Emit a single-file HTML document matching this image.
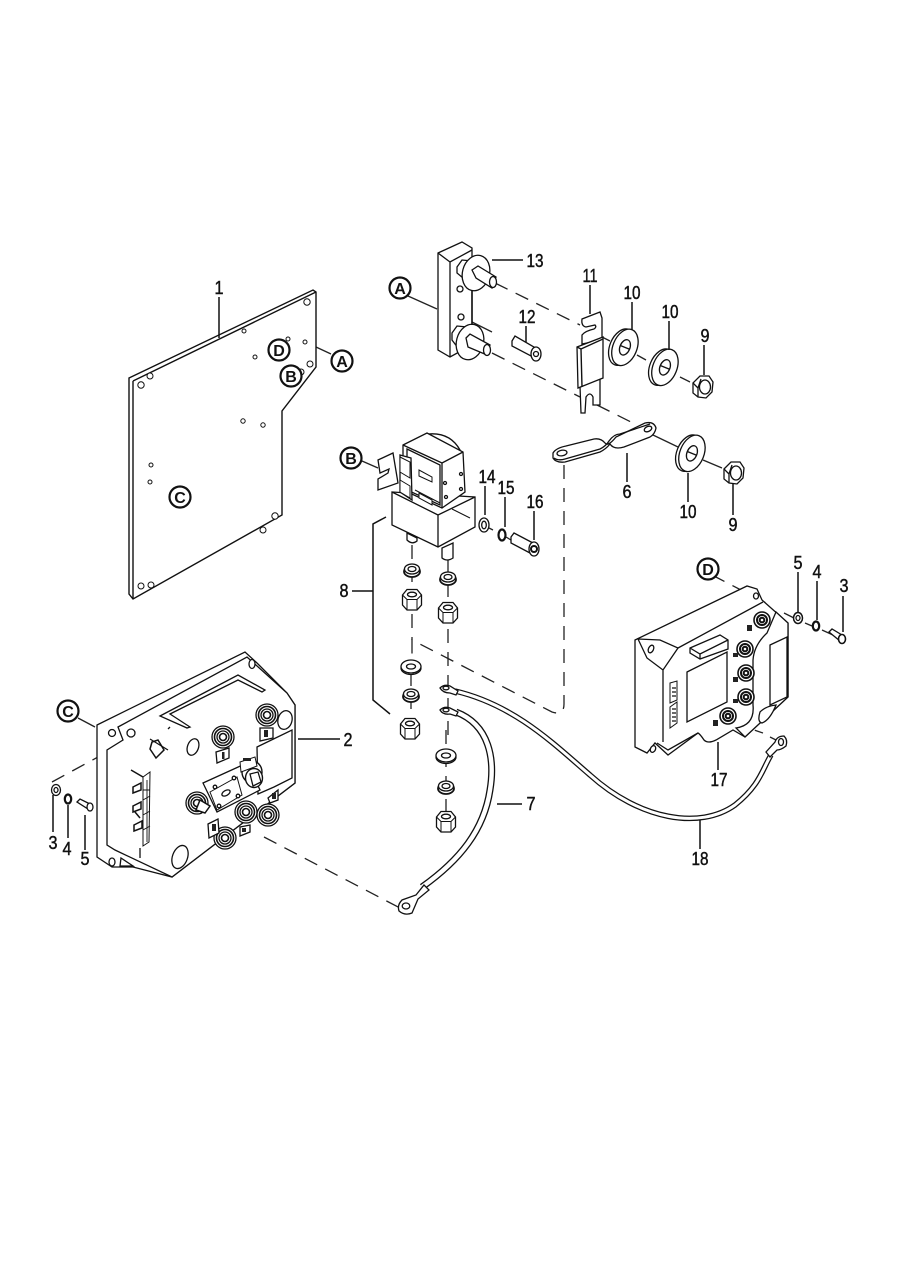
<!DOCTYPE html>
<html><head><meta charset="utf-8"><title>Parts diagram</title>
<style>
html,body{margin:0;padding:0;background:#fff}
svg{display:block}
text{font-family:"Liberation Sans",sans-serif;font-size:18px;fill:#111;text-anchor:middle;stroke:#111;stroke-width:.45}
.l{font-size:16px;font-weight:bold;stroke:none}
</style></head><body>
<svg width="900" height="1272" viewBox="0 0 900 1272" xmlns="http://www.w3.org/2000/svg">
<defs>
<g id="bw"><g transform="rotate(22)"><ellipse cx="-2" cy="1" rx="12" ry="19"/><ellipse cx="1" cy="0" rx="12" ry="19"/><ellipse cx="1" cy="0" rx="5" ry="8"/><path d="M-4 0H6" /></g></g>
<g id="nut"><path d="M-9 -4L-2 -11 7 -11 11 -5 10 5 4 11-4 10-9 6Z"/><path d="M-9 -4L-4 1-4 10M-4 1L-1 -8"/><ellipse cx="3" cy="0" rx="5.500" ry="7"/></g>
<g id="vn"><path d="M-9.500 -5L-5 -10.500H5L9.500 -5V5L5 10 -5 10 -9.500 5Z"/><path d="M-9.500 -5L-5 -.5H5L9.500 -5M-5 -.5V10M5 -.5V10" stroke-width="1"/><ellipse cx="0" cy="-5.500" rx="4.500" ry="2.300"/></g>
<g id="lw"><ellipse cx="0" cy="1.500" rx="8" ry="5.500" stroke-width="1.800"/><ellipse cx="0" cy="-1" rx="7.500" ry="5"/><ellipse cx="0" cy="-1" rx="4" ry="2.500"/></g>
<g id="fw"><ellipse cx="0" cy="1" rx="10" ry="6.500"/><ellipse cx="0" cy="-.5" rx="10" ry="6.500"/><ellipse cx="0" cy="-.5" rx="4.500" ry="2.500"/></g>
<g id="st"><circle r="11"/><circle r="8.500" stroke-width="1.600"/><circle r="6"/><circle r="3.500" stroke-width="1.600"/></g>
<g id="st2"><circle r="8" stroke-width="1.600"/><circle r="5" stroke-width="2"/><circle r="2.300" stroke-width="2"/></g>
</defs>

<!-- dashed connectors -->
<g fill="none" stroke="#222" stroke-width="1.300" stroke-dasharray="14 9">
<path d="M495 283L580 325"/><path d="M492 353L580 397"/><path d="M597 405L633 423"/>
<path d="M564 465V704Q564 716 552 712L412 640V660"/>
<path d="M448 560V740"/><path d="M412 545V640"/><path d="M446 730V822"/><path d="M411 672V725"/>
<path d="M264 837L400 908"/><path d="M52 782L120 745"/>
<path d="M712 575L770 605"/><path d="M733 723L763 733"/>
</g>
<g fill="none" stroke="#222" stroke-width="1.300">
<path d="M408 296L437 309"/><path d="M602 337L610 341M637 355L646 360M680 377L690 382"/>
<path d="M653 435L678 447M703 460L722 468"/><path d="M784 613L794 618M805 623L812 626M822 630L833 635"/>
<path d="M462 317L492 332"/><path d="M770 737L776 740"/>
<path d="M78 718L95 727"/><path d="M362 461L378 468"/>
<path d="M489 528L493 530M506 537L511 540"/>
<path d="M316 347L331 354M304 342L310 345M258 358L281 370M247 332L270 345M152 484L170 493"/>
</g>

<!-- part 1 plate -->
<g fill="#fff" stroke="#111" stroke-width="1.400">
<path d="M129 378L313 290 316 292 316 367 282 411 282 515 133 599 129 594Z"/>
<path d="M133 381L316 292M133 381V599" fill="none"/>
<g stroke-width="1">
<circle cx="141" cy="385" r="3.200"/><circle cx="150" cy="376" r="3"/><circle cx="307" cy="302" r="3.200"/>
<circle cx="244" cy="331" r="2"/><circle cx="255" cy="357" r="2"/><circle cx="305" cy="342" r="2"/>
<circle cx="288" cy="339" r="2"/><circle cx="278" cy="350" r="2"/><circle cx="243" cy="421" r="2.200"/>
<circle cx="263" cy="425" r="2.200"/><circle cx="151" cy="465" r="2"/><circle cx="150" cy="482" r="2"/>
<circle cx="275" cy="516" r="3.200"/><circle cx="263" cy="530" r="3"/><circle cx="151" cy="585" r="3"/>
<circle cx="141" cy="586" r="3"/><circle cx="310" cy="364" r="3"/><circle cx="301" cy="372" r="3"/>
</g>
</g>

<!-- bracket 13 -->
<g fill="#fff" stroke="#111" stroke-width="1.300">
<path d="M438 253L462 242 472 248V345L450 357 438 350Z"/>
<path d="M438 253L450 262 472 250M450 262V357" fill="none"/>
<circle cx="460" cy="289" r="3"/><circle cx="461" cy="317" r="3"/>
<path d="M457 267L462 260 472 261 472 278 463 278 457 273Z"/>
<path d="M452 333L457 326 467 327 467 347 458 348 452 340Z"/>
<ellipse cx="476" cy="273" rx="13.500" ry="18" transform="rotate(15 476 273)"/>
<ellipse cx="470" cy="342" rx="13.500" ry="18" transform="rotate(15 470 342)"/>
<path d="M472 270L478 266 496 277 492 288 476 278Z"/><ellipse cx="493" cy="282" rx="3.500" ry="5.500"/>
<path d="M466 338L470 334 490 345 487 355 468 347Z"/><ellipse cx="487" cy="350" rx="3.500" ry="5.500"/>
<path d="M472 291V325" fill="none" stroke-width="1.500"/>
</g>

<!-- bolt 12 -->
<g fill="#fff" stroke="#111" stroke-width="1.300">
<path d="M512 341L515 336 534 347 531 356 512 346Z"/><ellipse cx="536" cy="354" rx="5" ry="7"/><circle cx="536" cy="354" r="2.500"/>
</g>

<!-- fuse 11 -->
<g fill="#fff" stroke="#111" stroke-width="1.300">
<path d="M582 344V335Q585 331 594 329 597 327 595 325L586 327Q581 326 582 319L600 312 602 318V340Z"/>
<path d="M580 386L581 413 585 413 586 397Q590 391 593 397L593 405 600 405 600 378Z"/>
<path d="M577 347L603 337 603 378 578 388Z"/>
<path d="M577 347L581 349 603 339M581 349L582 387" fill="none" stroke-width="1.400"/>
</g>
<use href="#bw" x="624" y="347" fill="#fff" stroke="#111" stroke-width="1.300"/>
<use href="#bw" x="664" y="367" fill="#fff" stroke="#111" stroke-width="1.300"/>
<use href="#bw" x="691" y="453" fill="#fff" stroke="#111" stroke-width="1.300"/>
<use href="#nut" x="702" y="387" fill="#fff" stroke="#111" stroke-width="1.300"/>
<use href="#nut" x="733" y="473" fill="#fff" stroke="#111" stroke-width="1.300"/>

<!-- strap 6 -->
<g fill="#fff" stroke="#111" stroke-width="1.300">
<path d="M553 453Q556 448 566 446L594 439Q601 438 605 443 608 447 616 437L645 423Q654 421 656 428 655 434 650 437L624 447Q614 450 610 444 606 449 600 452L565 462Q556 463 553 458Z"/>
<path d="M554 458Q558 461 565 459L600 449Q606 446 609 441 614 434 620 434L650 424" fill="none"/>
<ellipse cx="562" cy="453" rx="5" ry="2.800" transform="rotate(-10 562 453)"/>
<ellipse cx="648" cy="429" rx="4" ry="2.500" transform="rotate(-25 648 429)"/>
</g>

<!-- relay -->
<g fill="#fff" stroke="#111" stroke-width="1.300">
<path d="M428 434Q450 432 460 450L445 458Z"/>
<path d="M378 460L393 453 398 483 378 490V479L388 473 389 469 380 473Z"/>
<path d="M392 492L475 497 475 527 438 547 392 525Z"/>
<path d="M392 492L438 515 475 497M438 515V547" fill="none"/>
<path d="M403 445L427 433 463 452 465 492 442 508 403 490Z"/>
<path d="M403 445L442 463 463 452M442 463V508" fill="none"/>
<path d="M407 449L440 465V505L407 490Z"/>
<path d="M400 455L411 458 412 500 400 492Z"/>
<path d="M419 470L432 477 432 482 419 476ZM419 493L432 500 432 505 419 498ZM400 457L410 462 410 478 400 472ZM400 480L410 486 410 498 400 492Z" stroke-width="1"/>
<circle cx="445" cy="483" r="1.500"/><circle cx="446" cy="497" r="1.500"/><circle cx="461" cy="474" r="1.500"/><circle cx="461" cy="489" r="1.500"/>
<path d="M407 533V540Q412 545 417 541V538Z"/><path d="M442 548V558Q447 562 453 558V543Z"/>
<path d="M415 490L440 503M452 509L470 518" fill="none" stroke-width="1"/>
</g>
<g fill="#fff" stroke="#111" stroke-width="1.300">
<ellipse cx="484" cy="525" rx="5" ry="7"/><ellipse cx="484" cy="525" rx="2.300" ry="3.800"/>
<ellipse cx="502" cy="535" rx="3.500" ry="5.500" stroke-width="2.200"/>
<path d="M511 537L514 533 533 543 530 553 511 543Z"/><ellipse cx="534" cy="549" rx="5" ry="7"/><circle cx="534" cy="549" r="3" stroke-width="2"/>
</g>

<!-- stacks -->
<g fill="#fff" stroke="#111" stroke-width="1.300">
<use href="#lw" x="412" y="570"/><use href="#lw" x="448" y="578"/>
<use href="#vn" x="412" y="600"/><use href="#vn" x="448" y="613"/>
<use href="#fw" x="411" y="667"/><use href="#lw" x="411" y="695"/><use href="#vn" x="410" y="729"/>
<use href="#fw" x="446" y="756"/><use href="#lw" x="446" y="787"/><use href="#vn" x="446" y="822"/>
</g>

<!-- cables -->
<g fill="none">
<path d="M455 691C515 705 555 745 590 775 640 820 700 830 735 805 760 785 762 770 771 755" stroke="#111" stroke-width="5.500"/>
<path d="M455 691C515 705 555 745 590 775 640 820 700 830 735 805 760 785 762 770 771 755" stroke="#fff" stroke-width="3"/>
<path d="M456 712C490 725 495 760 490 790 484 830 460 860 422 887" stroke="#111" stroke-width="7"/>
<path d="M456 712C490 725 495 760 490 790 484 830 460 860 422 887" stroke="#fff" stroke-width="4.400"/>
</g>
<g fill="#fff" stroke="#111" stroke-width="1.300">
<path d="M770 757L766 752 775 742Q777 736 784 736 788 740 786 746 781 750 777 750Z"/><ellipse cx="781" cy="742" rx="2.500" ry="3.500"/>
<path d="M440 688Q444 684 450 686L458 691 456 695 450 693Q443 693 440 688Z"/><ellipse cx="446" cy="688" rx="3" ry="1.800"/>
<path d="M440 710Q444 706 450 708L458 712 456 716 450 714Q443 715 440 710Z"/><ellipse cx="446" cy="710" rx="3" ry="1.800"/>
<path d="M416 895L424 885 429 890 418 899 412 913Q405 916 399 911 397 905 402 900Z"/><ellipse cx="406" cy="906" rx="3.800" ry="3"/>
</g>

<!-- part 2 -->
<g fill="#fff" stroke="#111" stroke-width="1.300">
<path d="M97 725L245 652 257 663 287 693 295 705V783L172 877 133 867 112 867 97 857Z"/>
<path d="M118 727L247 657 287 693 295 705V783L172 877 115 850 107 845V750L123 740Z"/>
<path d="M160 716L238 675 265 690 262 692 238 680 170 714 190 727 187 728Z"/>
<ellipse cx="193" cy="747" rx="5.500" ry="8.500" transform="rotate(20 193 747)"/>
<ellipse cx="285" cy="720" rx="7" ry="9.500" transform="rotate(15 285 720)"/>
<ellipse cx="180" cy="857" rx="7.500" ry="12" transform="rotate(20 180 857)"/>
<circle cx="131" cy="733" r="4"/><circle cx="112" cy="733" r="3.500"/>
<ellipse cx="252" cy="664" rx="3" ry="4.500"/><ellipse cx="112" cy="862" rx="3" ry="4"/>
<path d="M257 747L292 730V778L274 787 258 794Z"/>
<path d="M203 783L247 763 260 790 217 812Z"/>
<path d="M210 792L237 777 242 795 217 810Z" stroke-width="1"/>
<circle cx="215" cy="787" r="1.800"/><circle cx="234" cy="778" r="1.800"/><circle cx="238" cy="796" r="1.800"/><circle cx="219" cy="806" r="1.800"/>
<ellipse cx="226" cy="793" rx="4.500" ry="2.500" transform="rotate(-30 226 793)"/>
<path d="M143 777L150 772 149 842 143 846Z" stroke-width="1"/>
<path d="M143 790H150M143 800L150 796M143 815L150 811M143 830L150 826M147 780V842" fill="none" stroke-width=".9"/>
<path d="M131 770L143 777M133 787L141 783V790L133 793ZM133 806L141 802V809L133 812ZM134 825L142 821V828L134 831ZM135 812L140 818M152 742L158 740 164 750 156 758 150 749Z" stroke-width="1.500"/>
<path d="M140 848V858M168 750L150 739M168 729L170 727" fill="none"/>
<path d="M121 858L133 866 133 866 120 866Z"/>
<use href="#st" x="223" y="737"/><use href="#st" x="267" y="715"/>
<use href="#st" x="225" y="838"/><use href="#st" x="268" y="815"/><use href="#st" x="246" y="812"/>
<use href="#st" x="197" y="803"/>
<ellipse cx="252" cy="772" rx="10" ry="11" stroke-width="1.400"/>
<ellipse cx="254" cy="778" rx="8.500" ry="9.500" stroke-width="1.400"/>
<path d="M250 774L258 772 261 782 253 786Z"/>
<path d="M200 800L210 806 205 813 196 810Z" stroke-width="1.500"/>
<path d="M216 752L229 748 229 758 217 763Z"/><path d="M260 728L273 728 273 738 260 741Z"/>
<path d="M208 824L218 819 219 833 209 838Z"/><path d="M268 798L278 790 278 800 270 803Z"/>
<path d="M240 827L250 825 250 832 240 836Z"/>
<path d="M240 762L255 757 257 766 241 772Z" stroke-width="1"/>
</g>
<g fill="#222" stroke="none">
<rect x="222" y="752" width="2.500" height="7"/><rect x="264" y="730" width="4" height="7"/><rect x="212" y="824" width="4" height="7"/><rect x="242" y="828" width="4" height="4"/><rect x="243" y="758" width="8" height="3"/><rect x="272" y="793" width="4" height="6"/>
</g>

<!-- part 17 -->
<g fill="#fff" stroke="#111" stroke-width="1.300">
<path d="M635 640L747 586 757 589 762 600 788 623V697L745 737 733 730 716 740Q708 744 704 740 700 734 698 733L668 755 655 743 647 753 635 747Z"/>
<path d="M638 639L660 640 678 648 663 670 647 658ZM678 648L763 602M663 670V742M657 743L668 750 698 733" fill="none"/>
<ellipse cx="651" cy="649" rx="2.500" ry="4" transform="rotate(25 651 649)"/>
<ellipse cx="653" cy="749" rx="2.500" ry="3.500" transform="rotate(25 653 749)"/><ellipse cx="756" cy="596" rx="2.500" ry="3"/>
<path d="M690 648L720 635 728 640 728 649 700 659 690 653Z"/><path d="M690 648L700 654 728 640M700 654V659" fill="none"/>
<path d="M687 672L727 652V702L687 722Z"/>
<path d="M670 683L677 681V700L670 703ZM670 707L677 702V723L670 728Z" stroke-width="1"/>
<path d="M672 688H676M672 692H676M672 696H676M672 709H676M672 713H676M672 717H676M672 721H676" fill="none" stroke-width="1.200"/>
<path d="M767 633Q754 645 753 660V705Q755 725 736 728L745 737 788 697V623L776 612Z"/>
<path d="M770 645L787 637V697L770 705Z"/>
<path d="M760 712Q766 706 776 705 770 720 762 723 757 722 760 712Z"/>
<use href="#st2" x="762" y="620"/><use href="#st2" x="745" y="649"/><use href="#st2" x="746" y="673"/><use href="#st2" x="746" y="697"/><use href="#st2" x="728" y="716"/>
</g>
<g fill="#222"><rect x="747" y="625" width="5" height="6"/><rect x="733" y="653" width="5" height="4"/><rect x="733" y="677" width="5" height="5"/><rect x="733" y="699" width="5" height="4"/><rect x="713" y="720" width="5" height="6"/></g>

<!-- small hardware left and right -->
<g fill="#fff" stroke="#111" stroke-width="1.300">
<ellipse cx="56" cy="790" rx="4.500" ry="5.500"/><ellipse cx="56" cy="790" rx="2" ry="2.500"/>
<ellipse cx="68" cy="799" rx="3.200" ry="4.500" stroke-width="2.200"/>
<path d="M77 802L80 799 90 804 88 809Z"/><ellipse cx="90" cy="807" rx="3" ry="4"/>
<ellipse cx="798" cy="618" rx="4.500" ry="5.500" stroke-width="1.500"/><ellipse cx="798" cy="618" rx="2" ry="2.500"/>
<ellipse cx="816" cy="626" rx="3.200" ry="4.500" stroke-width="2.200"/>
<path d="M829 632L832 629 842 635 840 641Z"/><ellipse cx="842" cy="639" rx="3.500" ry="4.500" stroke-width="1.600"/>
</g>

<!-- leaders -->
<g fill="none" stroke="#111" stroke-width="1.500">
<path d="M219 297V338M298 739H340M497 804H522M386 517L373 524V700L390 714M352 591H373"/>
<path d="M492 260H523M590 285V314M526 326V342M632 302V330M669 321V350M704 345V375"/>
<path d="M627 453V482M688 473V502M733 483V515M485 486V515M505 497V527M534 511V540"/>
<path d="M718 742V770M700 820V849M843 596V632M817 581V620M798 572V612M53 795V832M68 805V838M85 815V850"/>
</g>

<!-- circled letters -->
<g fill="#fff" stroke="#111" stroke-width="2.200">
<circle cx="400" cy="288" r="10.500"/><circle cx="342" cy="361" r="10.500"/><circle cx="279" cy="350" r="10.500"/>
<circle cx="291" cy="376" r="10.500"/><circle cx="180" cy="497" r="10.500"/><circle cx="351" cy="458" r="10.500"/>
<circle cx="68" cy="711" r="10.500"/><circle cx="708" cy="569" r="10.500"/>
</g>
<g>
<text class="l" x="400" y="294">A</text><text class="l" x="342" y="367">A</text><text class="l" x="279" y="356">D</text>
<text class="l" x="291" y="382">B</text><text class="l" x="180" y="503">C</text><text class="l" x="351" y="464">B</text>
<text class="l" x="68" y="717">C</text><text class="l" x="708" y="575">D</text>
</g>

<!-- numbers -->
<g>
<text x="219" y="294" textLength="9" lengthAdjust="spacingAndGlyphs">1</text>
<text x="348" y="746" textLength="9" lengthAdjust="spacingAndGlyphs">2</text>
<text x="53" y="849" textLength="9" lengthAdjust="spacingAndGlyphs">3</text>
<text x="67" y="855" textLength="9" lengthAdjust="spacingAndGlyphs">4</text>
<text x="85" y="865" textLength="9" lengthAdjust="spacingAndGlyphs">5</text>
<text x="627" y="498" textLength="9" lengthAdjust="spacingAndGlyphs">6</text>
<text x="531" y="810" textLength="9" lengthAdjust="spacingAndGlyphs">7</text>
<text x="344" y="597" textLength="9" lengthAdjust="spacingAndGlyphs">8</text>
<text x="705" y="342" textLength="9" lengthAdjust="spacingAndGlyphs">9</text>
<text x="733" y="531" textLength="9" lengthAdjust="spacingAndGlyphs">9</text>
<text x="632" y="299" textLength="17" lengthAdjust="spacingAndGlyphs">10</text>
<text x="670" y="318" textLength="17" lengthAdjust="spacingAndGlyphs">10</text>
<text x="688" y="518" textLength="17" lengthAdjust="spacingAndGlyphs">10</text>
<text x="590" y="282" textLength="15" lengthAdjust="spacingAndGlyphs">11</text>
<text x="527" y="323" textLength="17" lengthAdjust="spacingAndGlyphs">12</text>
<text x="535" y="267" textLength="17" lengthAdjust="spacingAndGlyphs">13</text>
<text x="487" y="483" textLength="17" lengthAdjust="spacingAndGlyphs">14</text>
<text x="506" y="494" textLength="17" lengthAdjust="spacingAndGlyphs">15</text>
<text x="535" y="508" textLength="17" lengthAdjust="spacingAndGlyphs">16</text>
<text x="719" y="786" textLength="17" lengthAdjust="spacingAndGlyphs">17</text>
<text x="700" y="865" textLength="17" lengthAdjust="spacingAndGlyphs">18</text>
<text x="844" y="592" textLength="9" lengthAdjust="spacingAndGlyphs">3</text>
<text x="817" y="578" textLength="9" lengthAdjust="spacingAndGlyphs">4</text>
<text x="798" y="569" textLength="9" lengthAdjust="spacingAndGlyphs">5</text>
</g>
</svg>
</body></html>
